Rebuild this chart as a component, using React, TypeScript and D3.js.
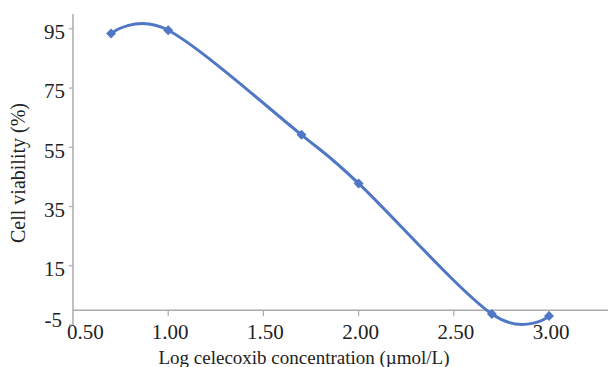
import React, { useRef, useEffect } from 'react';
import * as d3 from 'd3';

// log10 of celecoxib concentration (5, 10, 50, 100, 500, 1000 umol/L)
const logConc = [0.7, 1.0, 1.7, 2.0, 2.7, 3.0];
const viability = [93.4, 94.5, 59.2, 42.8, -1.3, -2.0];
const xTicks = [0.5, 1.0, 1.5, 2.0, 2.5, 3.0];
const yTicks = [95, 75, 55, 35, 15, -5];

const App = () => {
  const ref = useRef<SVGSVGElement>(null);

  useEffect(() => {
    const width = 608;
    const height = 367;
    const font = '"Liberation Serif", "Times New Roman", serif';
    const axisColor = '#ababab';
    const lineColor = '#4f77c6';

    const svg = d3.select(ref.current);
    svg.selectAll('*').remove();
    svg.attr('width', width).attr('height', height);

    const x = d3.scaleLinear().domain([0.5, 3.0]).range([73, 549]);
    const y = d3.scaleLinear().domain([-5, 100]).range([325, 14]);

    // y axis line
    svg.append('line')
      .attr('x1', x(0.5)).attr('x2', x(0.5))
      .attr('y1', y(100)).attr('y2', y(-5))
      .attr('stroke', axisColor).attr('stroke-width', 1.5);

    // x axis sits at y = 0
    svg.append('line')
      .attr('x1', x(0.5)).attr('x2', width)
      .attr('y1', y(0)).attr('y2', y(0))
      .attr('stroke', axisColor).attr('stroke-width', 1.5);

    svg.selectAll('.ytick')
      .data(yTicks)
      .enter()
      .append('line')
      .attr('x1', x(0.5) - 4).attr('x2', x(0.5))
      .attr('y1', (d) => y(d)).attr('y2', (d) => y(d))
      .attr('stroke', axisColor).attr('stroke-width', 1.2);

    svg.selectAll('.ylabel')
      .data(yTicks)
      .enter()
      .append('text')
      .attr('x', (d) => (d === -5 ? 62 : 65))
      .attr('y', (d) => (d === -5 ? y(d) - 5 : y(d) + 3))
      .attr('dy', '0.35em')
      .attr('text-anchor', 'end')
      .style('font-family', font)
      .style('font-size', '21px')
      .style('fill', '#222')
      .text((d) => d);

    svg.selectAll('.xtick')
      .data(xTicks.slice(1))
      .enter()
      .append('line')
      .attr('x1', (d) => x(d)).attr('x2', (d) => x(d))
      .attr('y1', y(0)).attr('y2', y(0) + 6)
      .attr('stroke', axisColor).attr('stroke-width', 1.2);

    svg.selectAll('.xlabel')
      .data(xTicks)
      .enter()
      .append('text')
      .attr('x', (d, i) => (i === 0 ? x(d) - 6 : x(d) + 2))
      .attr('y', 339)
      .attr('text-anchor', (d, i) => (i === 0 ? 'start' : 'middle'))
      .style('font-family', font)
      .style('font-size', '21px')
      .style('fill', '#222')
      .text((d) => d.toFixed(2));

    svg.append('text')
      .attr('x', 304)
      .attr('y', 364)
      .attr('text-anchor', 'middle')
      .style('font-family', font)
      .style('font-size', '19px')
      .style('fill', '#222')
      .text('Log celecoxib concentration (\u00b5mol/L)');

    svg.append('text')
      .attr('transform', 'translate(25,173) rotate(-90)')
      .attr('text-anchor', 'middle')
      .style('font-family', font)
      .style('font-size', '20px')
      .style('fill', '#222')
      .text('Cell viability (%)');

    const pts = logConc.map((d, i) => [x(d), y(viability[i])] as [number, number]);

    const line = d3.line().curve(d3.curveCardinal);
    svg.append('path')
      .attr('d', line(pts))
      .attr('fill', 'none')
      .attr('stroke', lineColor)
      .attr('stroke-width', 3);

    svg.selectAll('.marker')
      .data(pts)
      .enter()
      .append('path')
      .attr('transform', (d) => `translate(${d[0]},${d[1]}) rotate(45)`)
      .attr('d', d3.symbol().type(d3.symbolSquare).size(50)())
      .attr('fill', lineColor);
  }, []);

  return (
    <svg ref={ref} style={{ position: 'absolute', left: 0, top: 0 }}></svg>
  );
};

export default App;
